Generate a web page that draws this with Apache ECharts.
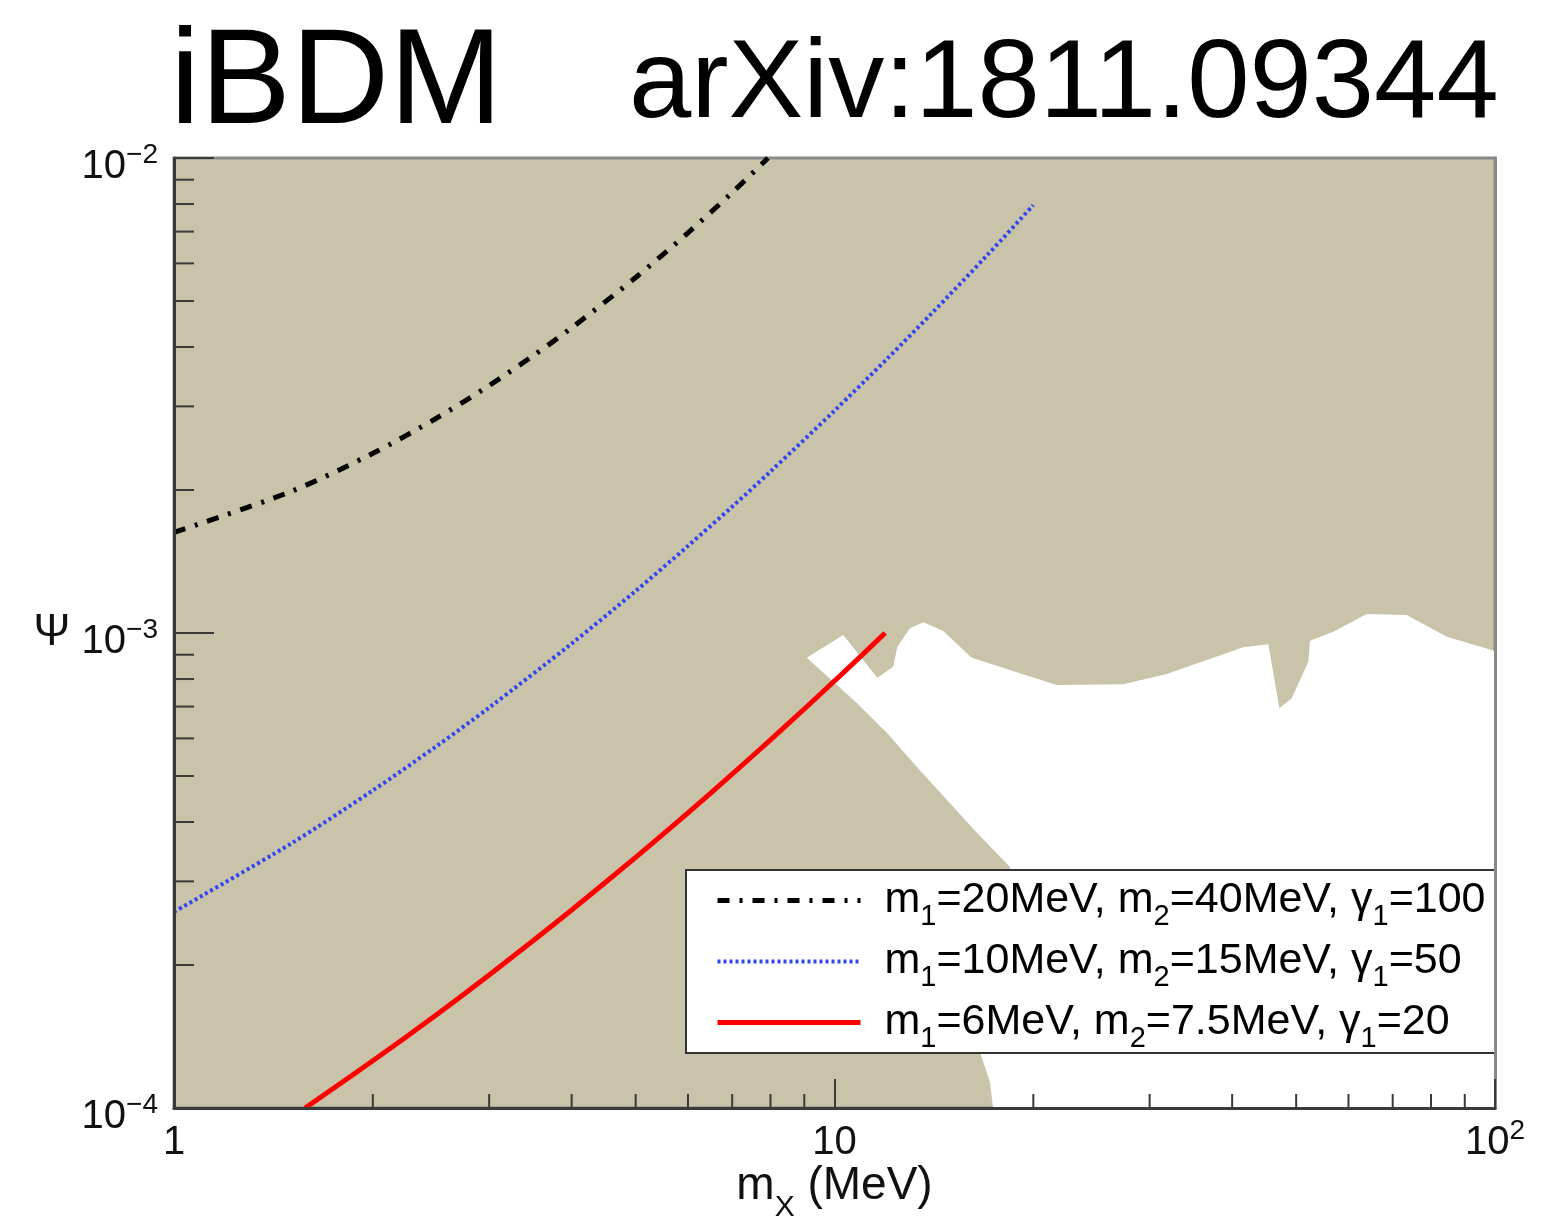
<!DOCTYPE html>
<html>
<head>
<meta charset="utf-8">
<script src="https://cdn.jsdelivr.net/npm/echarts@6/dist/echarts.min.js"></script>
<style>
html,body{margin:0;padding:0;background:#fff;}
#chart{width:1542px;height:1216px;}
</style>
</head>
<body>
<div id="chart"></div>
<script>
// ---------- data ----------
var seriesNames = ['m\u2081=20MeV, m\u2082=40MeV, \u03b3\u2081=100', 'm\u2081=10MeV, m\u2082=15MeV, \u03b3\u2081=50', 'm\u2081=6MeV, m\u2082=7.5MeV, \u03b3\u2081=20'];
var legendRich = [
  '{f|m}{s|1}{t|=20MeV, m}{s|2}{t|=40MeV, \u03b3}{s|1}{t|=100}',
  '{f|m}{s|1}{t|=10MeV, m}{s|2}{t|=15MeV, \u03b3}{s|1}{t|=50}',
  '{f|m}{s|1}{t|=6MeV, m}{s|2}{t|=7.5MeV, \u03b3}{s|1}{t|=20}'
];

var xBlack = [1.0, 1.5, 2.0, 2.5, 3.0, 3.5, 4.0, 5.0, 6.0, 7.0, 7.93];
var yBlack = [1.629e-3, 1.983e-3, 2.389e-3, 2.836e-3, 3.319e-3, 3.838e-3, 4.391e-3, 5.603e-3, 6.959e-3, 8.458e-3, 1.0e-2];

var xBlue = [1.0, 1.5, 2.0, 2.5, 3.0, 4.0, 5.0, 6.0, 7.0, 8.0, 10.0, 12.0, 14.0, 17.0, 20.0];
var yBlue = [2.588e-4, 3.595e-4, 4.662e-4, 5.784e-4, 6.965e-4, 9.50e-4, 1.226e-3, 1.525e-3, 1.845e-3, 2.188e-3, 2.938e-3, 3.773e-3, 4.692e-3, 6.228e-3, 7.958e-3];

var xRed = [1.58, 2.0, 2.5, 3.0, 3.5, 4.0, 5.0, 6.0, 7.0, 8.0, 9.0, 10.0, 11.0, 11.93];
var yRed = [1.0e-4, 1.257e-4, 1.574e-4, 1.906e-4, 2.252e-4, 2.611e-4, 3.371e-4, 4.182e-4, 5.045e-4, 5.959e-4, 6.918e-4, 7.926e-4, 8.980e-4, 1.0e-3];

// allowed (white) region boundary, traced clockwise
var whiteX = [9.077, 10.31, 11.61, 12.27, 12.45, 13.01, 13.63, 14.61, 16.13, 21.70, 27.36, 31.84, 41.58, 45.38, 47.15, 49.23, 52.16, 52.47, 56.91, 63.93, 73.49, 84.52, 100, 100, 17.38, 17.20, 16.90, 16.61, 17.50, 18.57, 18.76, 18.44, 16.44, 14.80, 13.33, 12.01, 10.81];
var whiteY = [8.87e-4, 9.90e-4, 8.05e-4, 8.49e-4, 9.36e-4, 1.023e-3, 1.053e-3, 1.010e-3, 8.87e-4, 7.77e-4, 7.80e-4, 8.20e-4, 9.33e-4, 9.47e-4, 6.94e-4, 7.29e-4, 8.70e-4, 9.63e-4, 1.006e-3, 1.096e-3, 1.091e-3, 9.82e-4, 9.165e-4, 1.0e-4, 1.0e-4, 1.129e-4, 1.22e-4, 1.305e-4, 1.608e-4, 2.152e-4, 2.741e-4, 3.217e-4, 3.793e-4, 4.451e-4, 5.222e-4, 6.157e-4, 7.12e-4];

// tick labels
var xTickLabels = ['1', '10', '10^2'];
var yTickLabels = ['10^\u22124', '10^\u22123', '10^\u22122'];
var xMinorTicks = [2,3,4,5,6,7,8,9,20,30,40,50,60,70,80,90];
var yMinorTicks = [2e-4,3e-4,4e-4,5e-4,6e-4,7e-4,8e-4,9e-4,2e-3,3e-3,4e-3,5e-3,6e-3,7e-3,8e-3,9e-3];

// ---------- chart ----------
var FONT = '"Liberation Sans", Arial, Helvetica, sans-serif';
var TAN = '#c9c3aa';
var AXC = '#3a3a3a';
var FRAME = '#8a8a8a';

function toRich(lbl) {
  var p = lbl.split('^');
  return p.length > 1 ? '{n|' + p[0] + '}{sup|' + p[1] + '}' : '{n|' + p[0] + '}';
}
var labelRich = {
  n: {fontFamily: FONT, fontSize: 40, lineHeight: 52, color: '#111'},
  sup: {fontFamily: FONT, fontSize: 28, lineHeight: 28, padding: [0, 0, 24, 0], color: '#111'}
};
function pairs(xs, ys) { return xs.map(function (x, i) { return [x, ys[i]]; }); }

var lineWidths = [5, 4, 5];

var chart = echarts.init(document.getElementById('chart'), null, {renderer: 'canvas'});
chart.setOption({
  animation: false,
  backgroundColor: '#fff',
  title: [
    {text: 'iBDM', left: 170, top: 17, padding: 0,
     textStyle: {fontFamily: FONT, fontSize: 136, fontWeight: 'normal', color: '#000'}},
    {text: 'arXiv:1811.09344', left: 629, top: 30, padding: 0,
     textStyle: {fontFamily: FONT, fontSize: 112, fontWeight: 'normal', color: '#000'}}
  ],
  grid: {left: 174, top: 158, right: 47, bottom: 108, show: true, containLabel: false,
         outerBoundsMode: 'none',
         backgroundColor: TAN, borderColor: FRAME, borderWidth: 3},
  xAxis: {
    type: 'log', logBase: 10, min: 1, max: 100, z: 10,
    axisLine: {show: true, lineStyle: {color: AXC, width: 3}},
    axisTick: {show: true, inside: true, length: 29, lineStyle: {color: AXC, width: 2}},
    splitLine: {show: false},
    axisLabel: {margin: 9, formatter: function (v) {
      var e = Math.round(Math.log10(v));
      return toRich(xTickLabels[e]);
    }, rich: labelRich},
    name: '{m|m}{s|X}{m| (MeV)}', nameLocation: 'middle', nameGap: 42, nameMoveOverlap: false,
    nameTextStyle: {rich: {
      m: {fontFamily: FONT, fontSize: 46, lineHeight: 73, color: '#111'},
      s: {fontFamily: FONT, fontSize: 30, lineHeight: 30, padding: [43, 0, 0, 0], color: '#111'}
    }}
  },
  yAxis: [{
    type: 'log', logBase: 10, min: 1e-4, max: 1e-2, z: 10,
    axisLine: {show: true, lineStyle: {color: AXC, width: 3}},
    axisTick: {show: true, inside: true, length: 40, lineStyle: {color: AXC, width: 2}},
    splitLine: {show: false},
    axisLabel: {margin: 16, padding: [18, 0, 0, 0], formatter: function (v) {
      var e = Math.round(Math.log10(v));
      return toRich(yTickLabels[e + 4]);
    }, rich: labelRich},
    name: '\u03a8', nameLocation: 'middle', nameRotate: 0, nameGap: 122, nameMoveOverlap: false,
    nameTextStyle: {fontFamily: FONT, fontSize: 44, color: '#111', align: 'center', verticalAlign: 'middle'}
  }, {
    type: 'log', logBase: 10, min: 1e-4, max: 1e-2, z: 10, position: 'right',
    axisLine: {show: true, lineStyle: {color: FRAME, width: 3}},
    axisTick: {show: false}, axisLabel: {show: false}, splitLine: {show: false}
  }],
  legend: {
    data: seriesNames.map(function (n, i) {
      return {name: n, itemStyle: {opacity: 0}, lineStyle: {width: lineWidths[i]}};
    }),
    orient: 'vertical', left: 686, top: 870,
    padding: [0, 10, 0, 29], itemGap: 0, itemWidth: 143, itemHeight: 20,
    backgroundColor: '#fff', borderColor: '#333', borderWidth: 2, borderRadius: 0,
    selectedMode: false,
    formatter: function (name) { return legendRich[seriesNames.indexOf(name)]; },
    textStyle: {rich: {
      f: {fontFamily: FONT, fontSize: 43, lineHeight: 60, padding: [0, 0, 0, 19], color: '#000'},
      t: {fontFamily: FONT, fontSize: 43, lineHeight: 60, color: '#000'},
      s: {fontFamily: FONT, fontSize: 29, lineHeight: 29, padding: [32, 0, 0, 0], color: '#000'}
    }}
  },
  series: [
    {
      type: 'custom', name: 'allowed', silent: true, z: 1,
      data: [[10, 1e-3]],
      renderItem: function (params, api) {
        var pts = whiteX.map(function (x, i) { return api.coord([x, whiteY[i]]); });
        return {type: 'polygon', shape: {points: pts}, style: {fill: '#ffffff'}};
      }
    },
    {
      type: 'custom', name: 'yminor', silent: true, z: 11,
      data: yMinorTicks.map(function (v) { return [1, v]; }),
      renderItem: function (params, api) {
        var p = api.coord([1, api.value(1)]);
        return {type: 'line', shape: {x1: p[0], y1: p[1], x2: p[0] + 20, y2: p[1]},
                style: {stroke: AXC, lineWidth: 2}};
      }
    },
    {
      type: 'custom', name: 'xminor', silent: true, z: 11,
      data: xMinorTicks.map(function (v) { return [v, 1e-4]; }),
      renderItem: function (params, api) {
        var p = api.coord([api.value(0), 1e-4]);
        return {type: 'line', shape: {x1: p[0], y1: p[1], x2: p[0], y2: p[1] - 14},
                style: {stroke: AXC, lineWidth: 2}};
      }
    },
    {
      type: 'line', name: seriesNames[0], data: pairs(xBlack, yBlack), smooth: 0.3,
      symbol: 'none', z: 5, color: '#000',
      lineStyle: {color: '#000', width: lineWidths[0], type: [12, 10, 3, 10]}
    },
    {
      type: 'line', name: seriesNames[1], data: pairs(xBlue, yBlue), smooth: 0.3,
      symbol: 'none', z: 5, color: '#3344f2',
      lineStyle: {color: '#3344f2', width: lineWidths[1], type: [3, 3]}
    },
    {
      type: 'line', name: seriesNames[2], data: pairs(xRed, yRed), smooth: 0.3,
      symbol: 'none', z: 5, color: '#ff0000',
      lineStyle: {color: '#ff0000', width: lineWidths[2]}
    }
  ]
});
</script>
</body>
</html>
